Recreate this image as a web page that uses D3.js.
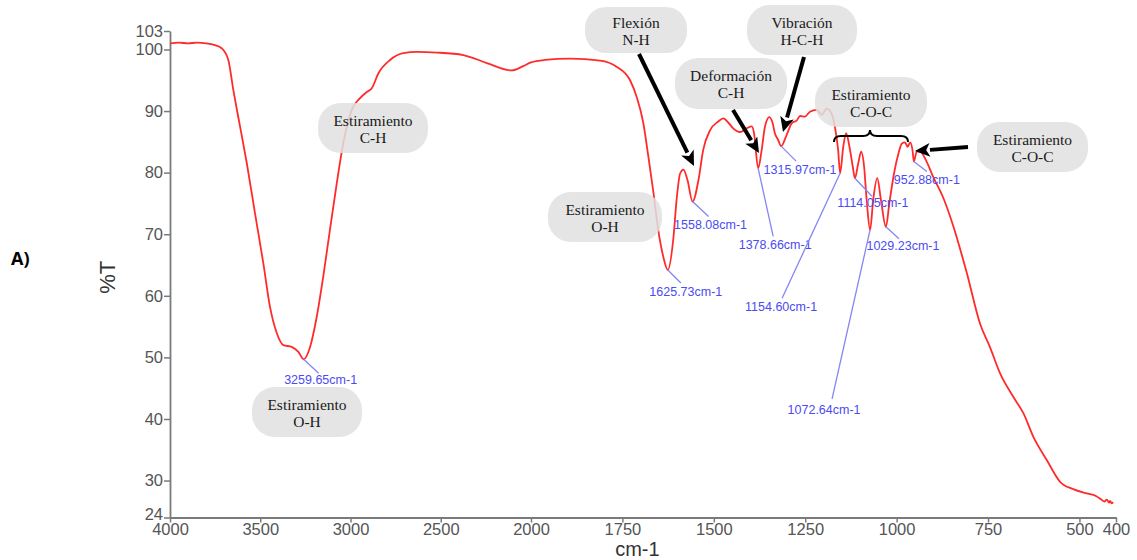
<!DOCTYPE html>
<html>
<head>
<meta charset="utf-8">
<script src="https://cdn.jsdelivr.net/npm/d3@7"></script>
<style>
  html, body { margin: 0; padding: 0; background: #fff; }
  svg { display: block; }
</style>
</head>
<body>
<svg id="chart" width="1137" height="560"></svg>
<script>
// FTIR transmittance spectrum, wavenumber in cm-1, transmittance in %T
const wavenumber = [
  4000, 3950, 3900, 3852, 3800, 3751, 3714, 3677, 3649, 3612, 3575, 3529, 3483, 3446,
  3409, 3372, 3326, 3289, 3259.65, 3224, 3187, 3151, 3114, 3076, 3040, 2993, 2947, 2910,
  2882, 2846, 2781, 2707, 2633, 2522, 2375, 2245, 2107, 2043, 2000,
  1962, 1893, 1811, 1766, 1729, 1711, 1693, 1679, 1665, 1652, 1638, 1625.73, 1611, 1601,
  1592, 1583, 1572, 1558.08, 1542, 1529, 1510, 1488, 1474, 1460, 1447, 1428, 1410, 1396,
  1390, 1378.66, 1369, 1360, 1348, 1339, 1333, 1324, 1315.97, 1301, 1287, 1273, 1264,
  1251, 1237, 1219, 1205, 1191, 1178, 1169, 1160, 1154.60, 1146, 1138, 1129, 1120,
  1114.05, 1105, 1097, 1089, 1082, 1072.64, 1064, 1053, 1043, 1029.23, 1020, 1007, 995,
  986, 977, 970, 963, 956, 952.88, 945, 936, 918, 900, 873, 846, 808, 772, 745, 717, 681,
  653, 626, 589, 553, 517, 480, 455, 444, 432, 425, 419, 416, 412, 408
];
const transmittance = [
  101.0, 101.1, 101.0, 101.1, 101.0, 100.7, 100.2, 98.3, 93.4, 87.5, 81.6, 73.4, 65.3, 58.2,
  54.0, 52.0, 51.7, 50.9, 49.7, 51.7, 56.6, 63.1, 70.7, 78.3, 84.8, 90.2, 92.1, 93.1,
  93.7, 96.1, 98.3, 99.4, 99.6, 99.5, 99.1, 97.8, 96.6, 97.3, 97.9,
  98.3, 98.5, 98.2, 97.2, 95.0, 92.3, 88.1, 82.6, 76.7, 70.7, 66.3, 64.2, 69.1, 76.1,
  79.9, 80.5, 78.8, 75.3, 78.8, 83.7, 86.9, 88.3, 88.8, 88.1, 87.2, 86.6, 87.2, 87.5,
  86.4, 80.7, 83.7, 87.5, 89.0, 88.0, 86.4, 85.3, 84.3, 86.1, 88.0, 88.5, 89.2,
  89.1, 89.9, 90.2, 89.4, 90.4, 89.6, 87.5, 83.7, 79.9, 84.2, 86.4, 84.2, 81.0,
  79.1, 81.5, 83.4, 81.0, 75.6, 70.7, 75.6, 79.1, 75.6, 71.2, 75.0, 79.9, 83.1,
  84.7, 84.9, 84.2, 84.9, 83.4, 81.8, 83.4, 83.4, 81.8, 79.3, 76.0, 71.5, 63.7, 55.5, 51.7, 47.4, 43.6,
  40.9, 37.1, 33.3, 29.8, 28.6, 27.9, 27.5, 27.1, 26.6, 26.9, 26.4, 26.7, 26.3, 26.5
];

// axis ticks
const xTicks = [4000, 3500, 3000, 2500, 2000, 1750, 1500, 1250, 1000, 750, 500, 400];
const yTicks = [24, 30, 40, 50, 60, 70, 80, 90, 100, 103];

// picked absorption bands
const peakWavenumbers = [3259.65, 1625.73, 1558.08, 1378.66, 1315.97, 1154.60, 1114.05, 1072.64, 1029.23, 952.88];
const peakTransmittance = [49.7, 64.2, 75.3, 80.7, 84.3, 79.9, 79.1, 70.7, 71.2, 81.8];

// band assignments (two lines each)
const bandTitles = ["Estiramiento", "Estiramiento", "Estiramiento", "Flexión", "Deformación", "Vibración", "Estiramiento", "Estiramiento"];
const bandGroups = ["C-H", "O-H", "O-H", "N-H", "C-H", "H-C-H", "C-O-C", "C-O-C"];

const svg = d3.select("#chart");

// below 2000 cm-1 the wavenumber axis is expanded two-fold
const x = d3.scaleLinear().domain([4000, 2000, 400]).range([170, 531, 1116]);
const y = d3.scaleLinear().domain([24, 103]).range([517.5, 31]);

const axisFont = "'Liberation Sans', Arial, Helvetica, sans-serif";
const serifFont = "'Liberation Serif', 'DejaVu Serif', serif";

// axes
const gx = svg.append("g")
  .attr("transform", `translate(0,${y(24)})`)
  .call(d3.axisBottom(x).tickValues(xTicks).tickSize(5).tickSizeOuter(0).tickFormat(d3.format("d")));
const gy = svg.append("g")
  .attr("transform", `translate(${x(4000)},0)`)
  .call(d3.axisLeft(y).tickValues(yTicks).tickSize(6).tickSizeOuter(0).tickFormat(d3.format("d")));

[gx, gy].forEach(g => {
  g.select(".domain").attr("stroke", "#7a7a7a").attr("stroke-width", 1.8);
  g.selectAll(".tick line").attr("stroke", "#7a7a7a").attr("stroke-width", 1.5);
  g.selectAll(".tick text")
    .attr("fill", "#555")
    .style("font-family", axisFont)
    .style("font-size", "16.5px");
});
gx.selectAll(".tick text").attr("dy", "0.8em").attr("y", 4);
gy.selectAll(".tick text").attr("x", -7);
// lift the lowest %T label clear of the first wavenumber label
gy.selectAll(".tick text").filter(d => d === 24).attr("dy", "0.1em");

// axis titles
svg.append("text")
  .attr("x", x(1750) + 15).attr("y", 556)
  .attr("text-anchor", "middle")
  .attr("fill", "#333")
  .style("font-family", axisFont).style("font-size", "20px")
  .text("cm-1");
svg.append("text")
  .attr("transform", `translate(115,${y(63)}) rotate(-90)`)
  .attr("text-anchor", "middle")
  .attr("fill", "#333")
  .style("font-family", axisFont).style("font-size", "22px")
  .text("%T");
svg.append("text")
  .attr("x", 11).attr("y", 265)
  .attr("fill", "#000")
  .style("font-family", "'Open Sans', 'Liberation Sans', sans-serif")
  .style("font-size", "18px").style("font-weight", "bold")
  .text("A)");

// spectrum trace
const spectrum = wavenumber.map((w, i) => [w, transmittance[i]]);
svg.append("path")
  .datum(spectrum)
  .attr("fill", "none")
  .attr("stroke", "#ff2b2b")
  .attr("stroke-width", 1.8)
  .attr("stroke-linejoin", "round")
  .attr("d", d3.line().x(d => x(d[0])).y(d => y(d[1])).curve(d3.curveMonotoneX));

// peak labels: leader line end and label centre, offsets from the peak point
const peakLabelOffsets = [
  [15, 14, 17, 21], [13, 13, 18, 22], [16, 15, 18, 23], [15, 68, 17, 77], [15, 15, 19, 24],
  [-58, 125, -59, 134], [17, 18, 18, 25], [-38, 169, -46, 180], [13, 12, 17, 19], [13, 10, 13, 18]
];
const blueText = "#4b4bf2";
const blueLine = "#8585f5";
peakWavenumbers.forEach((w, i) => {
  const px = x(w), py = y(peakTransmittance[i]);
  const o = peakLabelOffsets[i];
  svg.append("line")
    .attr("x1", px).attr("y1", py)
    .attr("x2", px + o[0]).attr("y2", py + o[1])
    .attr("stroke", blueLine).attr("stroke-width", 1.3);
  svg.append("text")
    .attr("x", px + o[2]).attr("y", py + o[3])
    .attr("text-anchor", "middle")
    .attr("dominant-baseline", "central")
    .attr("fill", blueText)
    .style("font-family", axisFont).style("font-size", "12.5px")
    .text(d3.format(".2f")(w) + "cm-1");
});

// assignment boxes: left, top, width, height
const boxLayout = [
  [318, 103, 110, 50], [252, 387, 110, 50], [548, 192, 114, 50], [585, 7, 102, 46],
  [675, 58, 112, 51], [747, 5, 110, 50], [815, 77, 112, 50], [977, 122, 111, 50]
];
bandTitles.forEach((t, i) => {
  const [bx, by, bw, bh] = boxLayout[i];
  const g = svg.append("g");
  g.append("rect")
    .attr("x", bx).attr("y", by).attr("width", bw).attr("height", bh)
    .attr("rx", bh / 2.2).attr("ry", bh / 2.2)
    .attr("fill", "#e1e1e1").attr("fill-opacity", 0.85);
  g.append("text")
    .attr("x", bx + bw / 2).attr("y", by + bh / 2 - 8)
    .attr("text-anchor", "middle").attr("dominant-baseline", "central")
    .attr("fill", "#1a1a1a")
    .style("font-family", serifFont).style("font-size", "15.5px")
    .text(t);
  g.append("text")
    .attr("x", bx + bw / 2).attr("y", by + bh / 2 + 9)
    .attr("text-anchor", "middle").attr("dominant-baseline", "central")
    .attr("fill", "#1a1a1a")
    .style("font-family", serifFont).style("font-size", "15.5px")
    .text(bandGroups[i]);
});

// arrows pointing at bands: start x, start y, tip x, tip y
const arrows = [
  [639, 54, 694, 166], [733, 110, 759, 153], [804, 57, 783, 132], [968, 147, 915, 151]
];
arrows.forEach(a => {
  const [x1, y1, x2, y2] = a;
  const ang = Math.atan2(y2 - y1, x2 - x1);
  const L = 15, W = 7;
  const bxp = x2 - L * Math.cos(ang), byp = y2 - L * Math.sin(ang);
  svg.append("line")
    .attr("x1", x1).attr("y1", y1).attr("x2", bxp).attr("y2", byp)
    .attr("stroke", "#000").attr("stroke-width", 4);
  const nx = -Math.sin(ang), ny = Math.cos(ang);
  svg.append("path")
    .attr("d", `M${x2},${y2} L${bxp + nx * W},${byp + ny * W} L${bxp + L * 0.25 * Math.cos(ang)},${byp + L * 0.25 * Math.sin(ang)} L${bxp - nx * W},${byp - ny * W} Z`)
    .attr("fill", "#000");
});

// curly brace over the C-O-C band group
svg.append("path")
  .attr("d", "M834,142 Q834,136 841,136 L863,136 Q870,136 870,130 Q870,136 877,136 L901,136 Q908,136 908,142")
  .attr("fill", "none").attr("stroke", "#000").attr("stroke-width", 2);
</script>
</body>
</html>
